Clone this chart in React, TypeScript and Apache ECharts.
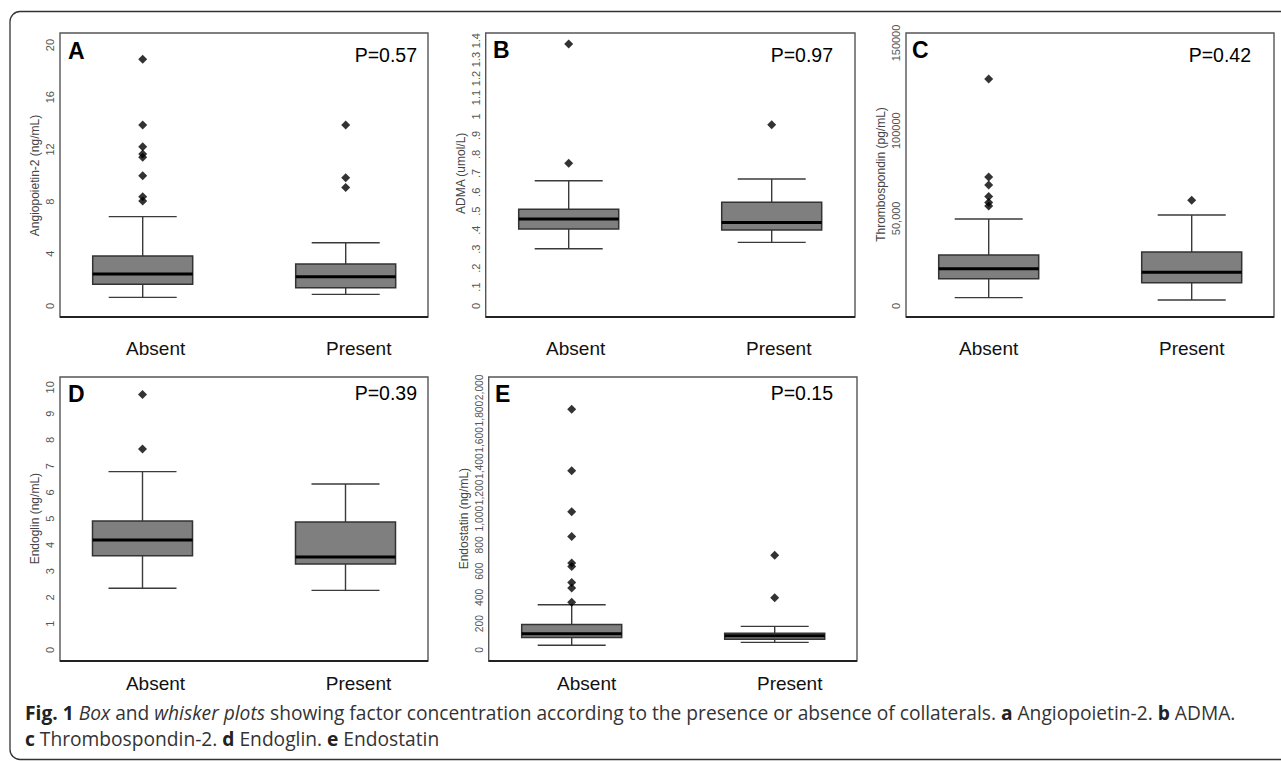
import { useEffect, useRef } from 'react';
import * as echarts from 'echarts';

// ---------- DATA ----------
const categories = ['Absent', 'Present'];

// box statistics: [lower whisker, Q1, median, Q3, upper whisker]
const angBox = [
  [0.66, 1.66, 2.45, 3.83, 6.85],
  [0.89, 1.40, 2.25, 3.22, 4.85],
];
const angOutAbsent = [18.9, 13.87, 12.2, 11.65, 11.4, 9.99, 8.38, 8.05];
const angOutPresent = [13.87, 9.83, 9.09];
const angTicks = ['0', '4', '8', '12', '16', '20'];

const admaBox = [
  [0.302, 0.406, 0.459, 0.51, 0.661],
  [0.336, 0.401, 0.441, 0.547, 0.67],
];
const admaOutAbsent = [1.382, 0.753];
const admaOutPresent = [0.957];
const admaTicks = ['0', '.1', '.2', '.3', '.4', '.5', '.6', '.7', '.8', '.9', '1', '1.1', '1.2', '1.3', '1.4'];

const thrBox = [
  [4750, 15600, 21300, 29100, 49600],
  [3400, 13300, 19200, 30800, 51900],
];
const thrOutAbsent = [129500, 73600, 69000, 62500, 59100, 57000];
const thrOutPresent = [60300];
const thrTicks = ['0', '50,000', '100000', '150000'];

const endoBox = [
  [2.35, 3.59, 4.19, 4.91, 6.79],
  [2.27, 3.27, 3.54, 4.87, 6.32],
];
const endoOutAbsent = [9.73, 7.65];
const endoOutPresent: number[] = [];
const endoTicks = ['0', '1', '2', '3', '4', '5', '6', '7', '8', '9', '10'];

const estBox = [
  [36, 96, 124, 195, 345],
  [58, 81, 109, 127, 180],
];
const estOutAbsent = [1832, 1365, 1053, 865, 662, 635, 513, 472, 363];
const estOutPresent = [721, 398];
const estTicks = ['0', '200', '400', '600', '800', '1,000', '1,200', '1,400', '1,600', '1,800', '2,000'];

const pValues = ['P=0.57', 'P=0.97', 'P=0.42', 'P=0.39', 'P=0.15'];
const panelLetters = ['A', 'B', 'C', 'D', 'E'];
const yTitles = [
  'Angiopoietin-2 (ng/mL)',
  'ADMA (umol/L)',
  'Thrombospondin (pg/mL)',
  'Endoglin (ng/mL)',
  'Endostatin (ng/mL)',
];
const captionLine1 =
  '{b|Fig. 1} {i|Box} and {i|whisker plots} showing factor concentration according to the presence or absence of collaterals. {b|a} Angiopoietin-2. {b|b} ADMA.';
const captionLine2 = '{b|c} Thrombospondin-2. {b|d} Endoglin. {b|e} Endostatin';

// ---------- LAYOUT ----------
const W = 1281;
const H = 761;

const panels = [
  { box: angBox, outA: angOutAbsent, outP: angOutPresent, ticks: angTicks, interval: 4, tickFont: 11,
    gridLeft: 41.2, gridTop: 45, gridH: 261, frame: [60, 33, 368, 284], xMargin: 32.5, xShift: 13,
    letterXY: [68, 51], pXY: [417, 55] },
  { box: admaBox, outA: admaOutAbsent, outP: admaOutPresent, ticks: admaTicks, interval: 0.1, tickFont: 11,
    gridLeft: 467.2, gridTop: 40.7, gridH: 265.3, frame: [485.7, 33, 369.3, 284], xMargin: 32.5, xShift: 7,
    letterXY: [493, 50], pXY: [833, 55] },
  { box: thrBox, outA: thrOutAbsent, outP: thrOutPresent, ticks: thrTicks, interval: 50000, tickFont: 11,
    gridLeft: 887.2, gridTop: 43, gridH: 263, frame: [906, 33, 368, 284], xMargin: 32.5, xShift: 0,
    letterXY: [912, 50], pXY: [1251, 55] },
  { box: endoBox, outA: endoOutAbsent, outP: endoOutPresent, ticks: endoTicks, interval: 1, tickFont: 11,
    gridLeft: 41, gridTop: 387.3, gridH: 262.7, frame: [60, 377, 368, 284], xMargin: 23.5, xShift: 13,
    letterXY: [68, 394], pXY: [417, 393] },
  { box: estBox, outA: estOutAbsent, outP: estOutPresent, ticks: estTicks, interval: 200, tickFont: 10.3,
    gridLeft: 470.2, gridTop: 387.3, gridH: 262.7, frame: [488.7, 377, 368.3, 284], xMargin: 23.5, xShift: 15,
    letterXY: [495, 394], pXY: [833, 393] },
];

const BAND = 203;
const BOX_HALF = 50;
const CAP_HALF = 34;
const AXIS_FONT = '"Liberation Sans", Arial, sans-serif';
const CAPTION_FONT = '"Open Sans", "Noto Sans", sans-serif';
const CAPTION_SIZE = 19.2;

function renderBox(params: any, api: any) {
  const k = api.value(0);
  const lo = api.coord([k, api.value(1)]);
  const q1 = api.coord([k, api.value(2)]);
  const md = api.coord([k, api.value(3)]);
  const q3 = api.coord([k, api.value(4)]);
  const hi = api.coord([k, api.value(5)]);
  const cx = md[0];
  const lineStyle = { stroke: '#3a3a3a', lineWidth: 1.4 };
  return {
    type: 'group',
    children: [
      { type: 'line', shape: { x1: cx, y1: lo[1], x2: cx, y2: q1[1] }, style: lineStyle },
      { type: 'line', shape: { x1: cx, y1: q3[1], x2: cx, y2: hi[1] }, style: lineStyle },
      { type: 'line', shape: { x1: cx - CAP_HALF, y1: lo[1], x2: cx + CAP_HALF, y2: lo[1] }, style: lineStyle },
      { type: 'line', shape: { x1: cx - CAP_HALF, y1: hi[1], x2: cx + CAP_HALF, y2: hi[1] }, style: lineStyle },
      {
        type: 'rect',
        shape: { x: cx - BOX_HALF, y: q3[1], width: BOX_HALF * 2, height: q1[1] - q3[1] },
        style: { fill: '#7f7f7f', stroke: '#333', lineWidth: 1.5 },
      },
      {
        type: 'line',
        shape: { x1: cx - BOX_HALF, y1: md[1], x2: cx + BOX_HALF, y2: md[1] },
        style: { stroke: '#000', lineWidth: 3 },
      },
    ],
  };
}

function captionText(text: string, y: number) {
  const base = { fontFamily: CAPTION_FONT, fontSize: CAPTION_SIZE, lineHeight: 20 };
  return {
    type: 'text',
    x: 25,
    y,
    style: {
      text,
      ...base,
      fill: '#333',
      textAlign: 'left',
      textVerticalAlign: 'middle',
      align: 'left',
      verticalAlign: 'middle',
      rich: {
        b: { ...base, fontWeight: 'bold', fill: '#222', color: '#222' },
        i: { ...base, fontStyle: 'italic', fill: '#333', color: '#333' },
      },
    },
    z: 7,
  };
}

export default function App() {
  const ref = useRef<HTMLDivElement>(null);

  useEffect(() => {
    const chart = echarts.init(ref.current!, null, { renderer: 'svg', width: W, height: H });

    const grids: any[] = [];
    const xAxes: any[] = [];
    const yAxes: any[] = [];
    const series: any[] = [];
    const graphics: any[] = [];

    graphics.push({
      type: 'rect',
      shape: { x: 10, y: 11.5, width: 1300, height: 748, r: 10 },
      style: { fill: 'none', stroke: '#333', lineWidth: 1.3 },
      z: 10,
    });

    panels.forEach((p, i) => {
      grids.push({
        left: p.gridLeft,
        top: p.gridTop,
        width: BAND * 2,
        height: p.gridH,
        containLabel: false,
        outerBoundsMode: 'none',
      });
      xAxes.push({
        type: 'category',
        gridIndex: i,
        data: categories,
        boundaryGap: true,
        axisLine: { show: false },
        axisTick: { show: false },
        splitLine: { show: false },
        axisLabel: {
          margin: p.xMargin,
          fontFamily: AXIS_FONT,
          fontSize: 19,
          color: '#111',
          padding: [0, 0, 0, p.xShift * 2],
        },
      });
      const nTicks = p.ticks.length - 1;
      yAxes.push({
        type: 'value',
        gridIndex: i,
        min: 0,
        max: p.interval * nTicks,
        interval: p.interval,
        offset: -(p.frame[0] - p.gridLeft),
        axisLine: { show: false },
        axisTick: { show: false },
        splitLine: { show: false },
        name: yTitles[i],
        nameLocation: 'middle',
        nameRotate: 90,
        nameGap: 19,
        nameTextStyle: { fontFamily: AXIS_FONT, fontSize: 12, color: '#444' },
        axisLabel: {
          rotate: 90,
          margin: 4.5,
          showMinLabel: true,
          showMaxLabel: true,
          hideOverlap: false,
          fontFamily: AXIS_FONT,
          fontSize: p.tickFont,
          color: '#555',
          formatter: (v: number) => p.ticks[Math.round(v / p.interval)] ?? '',
        },
      });
      series.push({
        type: 'custom',
        xAxisIndex: i,
        yAxisIndex: i,
        renderItem: renderBox,
        encode: { x: 0, y: [1, 2, 3, 4, 5] },
        data: p.box.map((b, k) => [k, ...b]),
        z: 2,
      });
      series.push({
        type: 'scatter',
        xAxisIndex: i,
        yAxisIndex: i,
        symbol: 'diamond',
        symbolSize: 9,
        itemStyle: { color: '#000' },
        data: [...p.outA.map((v) => [0, v]), ...p.outP.map((v) => [1, v])],
        z: 3,
      });

      const [fx, fy, fw, fh] = p.frame;
      graphics.push({
        type: 'rect',
        shape: { x: fx, y: fy, width: fw, height: fh },
        style: { fill: 'none', stroke: '#555', lineWidth: 1.4 },
        z: 5,
      });
      graphics.push({
        type: 'line',
        shape: { x1: fx, y1: fy + fh, x2: fx + fw, y2: fy + fh },
        style: { stroke: '#222', lineWidth: 2 },
        z: 6,
      });
      graphics.push({
        type: 'text',
        x: p.letterXY[0],
        y: p.letterXY[1],
        style: {
          text: panelLetters[i],
          fontFamily: AXIS_FONT,
          fontSize: 23,
          fontWeight: 'bold',
          fill: '#000',
          textAlign: 'left',
          textVerticalAlign: 'middle',
          align: 'left',
          verticalAlign: 'middle',
        },
        z: 7,
      });
      graphics.push({
        type: 'text',
        x: p.pXY[0],
        y: p.pXY[1],
        style: {
          text: pValues[i],
          fontFamily: AXIS_FONT,
          fontSize: 19.5,
          fill: '#000',
          textAlign: 'right',
          textVerticalAlign: 'middle',
          align: 'right',
          verticalAlign: 'middle',
        },
        z: 7,
      });
    });

    graphics.push(captionText(captionLine1, 712));
    graphics.push(captionText(captionLine2, 738.5));

    chart.setOption({
      animation: false,
      backgroundColor: '#fff',
      grid: grids,
      xAxis: xAxes,
      yAxis: yAxes,
      series,
      graphic: { elements: graphics },
    });

    return () => chart.dispose();
  }, []);

  return (
    <div
      ref={ref}
      style={{ position: 'fixed', left: 0, top: 0, width: W, height: H, background: '#fff' }}
    />
  );
}
